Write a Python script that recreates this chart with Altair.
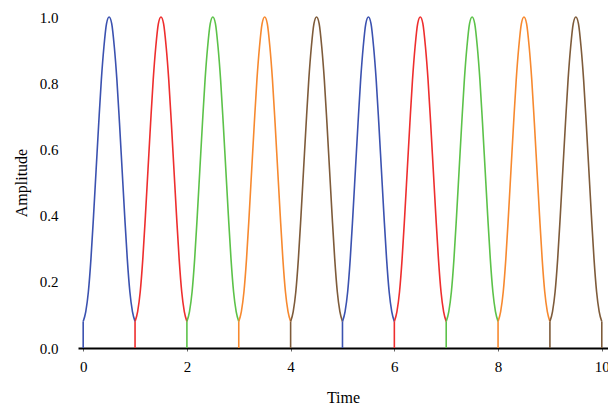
import altair as alt
import pandas as pd

# one pulse shape, amplitude read at fractions of each 1-unit slot
pulse_u = [0.0, 0.05, 0.1, 0.15, 0.2, 0.25, 0.3, 0.35, 0.4, 0.45, 0.5,
           0.55, 0.6, 0.65, 0.7, 0.75, 0.8, 0.85, 0.9, 0.95, 1.0]
pulse_amp = [0.08, 0.11, 0.17, 0.27, 0.40, 0.54, 0.68, 0.81, 0.91, 0.98, 1.0,
             0.98, 0.91, 0.81, 0.68, 0.54, 0.40, 0.27, 0.17, 0.11, 0.08]
pulse_starts = [0, 1, 2, 3, 4, 5, 6, 7, 8, 9]
pulse_colors = ["#3b52b0", "#ee2e2e", "#5cc249", "#f7892f", "#7e5b3a",
                "#3b52b0", "#ee2e2e", "#5cc249", "#f7892f", "#7e5b3a"]
edge_times = [0, 1, 2, 3, 4, 5, 6, 7, 8, 9, 10]
edge_pulse = [0, 1, 2, 3, 4, 5, 6, 7, 8, 9, 9]
edge_top = 0.08
x_labels = [0, 2, 4, 6, 8, 10]
y_labels = [0.0, 0.2, 0.4, 0.6, 0.8, 1.0]

rows = []
for k in pulse_starts:
    for u, a in zip(pulse_u, pulse_amp):
        rows.append({"t": k + u, "amp": a, "pulse": k})
df = pd.DataFrame(rows)
edges = pd.DataFrame({"t": edge_times, "y0": [0.0] * len(edge_times),
                      "y1": [edge_top] * len(edge_times), "pulse": edge_pulse})

FONT = "Liberation Serif"
xscale = alt.Scale(domain=[-0.1, 10.12], nice=False, zero=False)
yscale = alt.Scale(domain=[0, 1], nice=False)
cscale = alt.Scale(domain=pulse_starts, range=pulse_colors)

lines = alt.Chart(df).mark_line(strokeWidth=1.6, interpolate="monotone").encode(
    x=alt.X("t:Q", scale=xscale,
            axis=alt.Axis(values=x_labels, title="Time", format="d", grid=False,
                          domainColor="black", domainWidth=2, tickSize=3,
                          tickColor="#666", labelFont=FONT, labelFontSize=15,
                          labelColor="black", labelPadding=8, titleFont=FONT,
                          titleFontSize=16, titleFontWeight="normal",
                          titleColor="black", titlePadding=15)),
    y=alt.Y("amp:Q", scale=yscale,
            axis=alt.Axis(values=y_labels, title="Amplitude", format=".1f",
                          grid=False, domain=False, ticks=False,
                          labelFont=FONT, labelFontSize=15, labelColor="black",
                          labelPadding=20, titleFont=FONT, titleFontSize=16,
                          titleFontWeight="normal", titleColor="black",
                          titlePadding=10)),
    color=alt.Color("pulse:N", scale=cscale, legend=None),
    detail="pulse:N",
)

rules = alt.Chart(edges).mark_rule(strokeWidth=1.6).encode(
    x=alt.X("t:Q", scale=xscale),
    y=alt.Y("y0:Q", scale=yscale),
    y2="y1:Q",
    color=alt.Color("pulse:N", scale=cscale, legend=None),
)

chart = (rules + lines).properties(
    width=530, height=331,
    background="white",
    autosize=alt.AutoSizeParams(type="none"),
    padding={"left": 78, "top": 17, "right": 0, "bottom": 61},
).configure_view(stroke=None)

chart.save("out.html", embed_options={"renderer": "svg", "actions": False})
